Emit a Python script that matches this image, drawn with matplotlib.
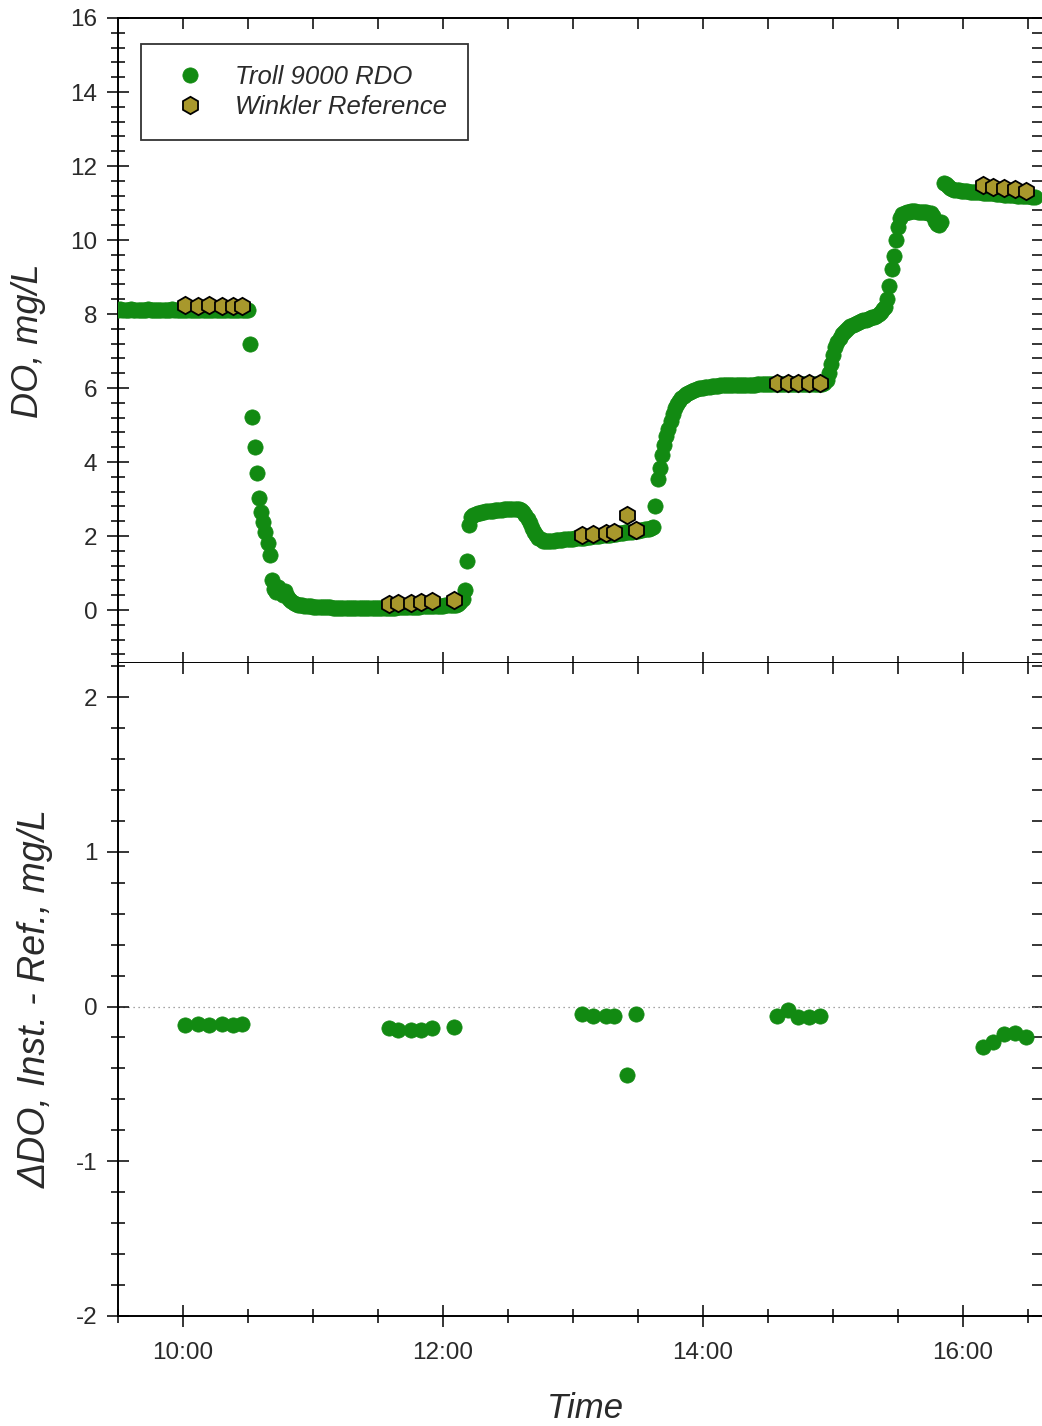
import numpy as np
import matplotlib
matplotlib.use("Agg")
import matplotlib.pyplot as plt
from matplotlib.ticker import MultipleLocator, FuncFormatter

plt.rcParams['font.family'] = ['Liberation Sans', 'DejaVu Sans']
plt.rcParams['axes.unicode_minus'] = False

#  DATA 
# Troll 9000 RDO log, one reading per minute starting 09:30
RDO_START = "09:30"
rdo_do = [
    8.12, 8.13, 8.12, 8.11, 8.12, 8.12, 8.13, 8.12, 8.11, 8.11,
    8.12, 8.12, 8.11, 8.12, 8.13, 8.12, 8.12, 8.11, 8.12, 8.12,
    8.12, 8.11, 8.11, 8.12, 8.12, 8.13, 8.12, 8.12, 8.12, 8.11,
    8.12, 8.12, 8.12, 8.11, 8.12, 8.12, 8.12, 8.12, 8.11, 8.12,
    8.12, 8.12, 8.12, 8.12, 8.11, 8.12, 8.12, 8.12, 8.11, 8.12,
    8.12, 8.12, 8.11, 8.12, 8.12, 8.12, 8.11, 8.12, 8.11, 8.11,
    8.10, 7.20, 5.22, 4.42, 3.70, 3.02, 2.65, 2.38, 2.10, 1.80,
    1.48, 0.82, 0.56, 0.48, 0.62, 0.50, 0.42, 0.52, 0.38, 0.30,
    0.24, 0.20, 0.17, 0.15, 0.14, 0.13, 0.12, 0.11, 0.10, 0.10,
    0.09, 0.09, 0.08, 0.08, 0.08, 0.07, 0.07, 0.07, 0.07, 0.06,
    0.06, 0.06, 0.06, 0.06, 0.05, 0.05, 0.05, 0.05, 0.05, 0.05,
    0.05, 0.05, 0.05, 0.05, 0.05, 0.05, 0.05, 0.05, 0.05, 0.05,
    0.05, 0.05, 0.05, 0.05, 0.05, 0.05, 0.06, 0.06, 0.06, 0.07,
    0.07, 0.07, 0.08, 0.08, 0.08, 0.08, 0.09, 0.09, 0.09, 0.09,
    0.10, 0.10, 0.10, 0.10, 0.11, 0.11, 0.11, 0.12, 0.12, 0.12,
    0.12, 0.13, 0.13, 0.13, 0.14, 0.14, 0.15, 0.17, 0.22, 0.30,
    0.55, 1.32, 2.30, 2.52, 2.58, 2.60, 2.62, 2.63, 2.65, 2.66,
    2.67, 2.68, 2.68, 2.69, 2.70, 2.70, 2.71, 2.71, 2.72, 2.72,
    2.73, 2.73, 2.74, 2.74, 2.74, 2.73, 2.70, 2.65, 2.56, 2.46,
    2.34, 2.22, 2.11, 2.02, 1.96, 1.91, 1.88, 1.87, 1.87, 1.88,
    1.88, 1.88, 1.89, 1.89, 1.90, 1.90, 1.91, 1.92, 1.92, 1.93,
    1.93, 1.94, 1.94, 1.95, 1.96, 1.96, 1.97, 1.98, 1.98, 1.99,
    2.00, 2.00, 2.01, 2.02, 2.02, 2.03, 2.04, 2.04, 2.05, 2.06,
    2.06, 2.07, 2.08, 2.09, 2.10, 2.10, 2.11, 2.12, 2.13, 2.14,
    2.15, 2.16, 2.17, 2.18, 2.19, 2.20, 2.22, 2.25, 2.80, 3.55,
    3.85, 4.20, 4.45, 4.70, 4.90, 5.10, 5.30, 5.45, 5.56, 5.65,
    5.72, 5.78, 5.83, 5.87, 5.90, 5.93, 5.95, 5.97, 5.99, 6.00,
    6.01, 6.02, 6.03, 6.04, 6.05, 6.05, 6.06, 6.06, 6.07, 6.07,
    6.07, 6.08, 6.08, 6.08, 6.08, 6.08, 6.09, 6.09, 6.09, 6.09,
    6.09, 6.09, 6.09, 6.09, 6.09, 6.10, 6.10, 6.10, 6.10, 6.10,
    6.10, 6.10, 6.10, 6.10, 6.10, 6.10, 6.10, 6.10, 6.10, 6.10,
    6.10, 6.10, 6.10, 6.10, 6.10, 6.10, 6.10, 6.10, 6.10, 6.10,
    6.10, 6.10, 6.10, 6.10, 6.10, 6.11, 6.14, 6.22, 6.40, 6.65,
    6.90, 7.10, 7.25, 7.36, 7.45, 7.52, 7.58, 7.63, 7.67, 7.70,
    7.73, 7.76, 7.79, 7.81, 7.83, 7.85, 7.87, 7.89, 7.91, 7.93,
    7.96, 8.00, 8.06, 8.14, 8.20, 8.40, 8.75, 9.22, 9.58, 10.00,
    10.35, 10.60, 10.70, 10.74, 10.76, 10.77, 10.78, 10.78, 10.78, 10.77,
    10.77, 10.76, 10.76, 10.75, 10.74, 10.72, 10.65, 10.52, 10.42, 10.40,
    10.48, 11.55, 11.52, 11.45, 11.40, 11.38, 11.36, 11.35, 11.34, 11.33,
    11.33, 11.32, 11.32, 11.31, 11.31, 11.30, 11.30, 11.29, 11.29, 11.28,
    11.28, 11.27, 11.27, 11.26, 11.26, 11.25, 11.25, 11.24, 11.24, 11.23,
    11.23, 11.22, 11.22, 11.21, 11.21, 11.20, 11.20, 11.19, 11.19, 11.18,
    11.18, 11.18, 11.17, 11.17,
]

# Winkler titration samples
ref_times = ["10:01", "10:07", "10:12", "10:18", "10:23", "10:27",
             "11:35", "11:39", "11:45", "11:50", "11:55", "12:05",
             "13:04", "13:09", "13:15", "13:19", "13:25", "13:29",
             "14:34", "14:39", "14:44", "14:49", "14:54",
             "16:09", "16:14", "16:19", "16:24", "16:29"]
ref_do = [8.24, 8.23, 8.24, 8.23, 8.23, 8.23,
          0.17, 0.19, 0.20, 0.22, 0.24, 0.27,
          2.03, 2.05, 2.09, 2.12, 2.57, 2.16,
          6.15, 6.15, 6.15, 6.15, 6.15,
          11.49, 11.44, 11.40, 11.37, 11.33]
# instrument minus reference
diff_do = [-0.12, -0.11, -0.12, -0.11, -0.12, -0.11,
           -0.14, -0.15, -0.15, -0.15, -0.14, -0.13,
           -0.05, -0.06, -0.06, -0.06, -0.44, -0.05,
           -0.06, -0.02, -0.07, -0.07, -0.06,
           -0.26, -0.23, -0.18, -0.17, -0.20]

X_TICKS = ["10:00", "12:00", "14:00", "16:00"]

GREEN = "#128a12"
OLIVE = "#a8982c"
TXT   = "#2a2a2a"


def hhmm(s):
    h, m = s.split(":")
    return int(h) + int(m) / 60.0


def fmt_time(x, pos):
    h = int(round(x * 60)) // 60
    m = int(round(x * 60)) % 60
    return f"{h}:{m:02d}"


rdo_t = hhmm(RDO_START) + np.arange(len(rdo_do)) / 60.0
ref_t = np.array([hhmm(s) for s in ref_times])

#  FIGURE 
W, H = 1042, 1426
fig = plt.figure(figsize=(W / 100, H / 100), dpi=100)
L, R = 118 / W, 1043 / W
ax1 = fig.add_axes([L, 1 - 663 / H, R - L, (663 - 18) / H])
ax2 = fig.add_axes([L, 1 - 1316 / H, R - L, (1316 - 663) / H], sharex=ax1)

MS = 11
ax1.plot(rdo_t, rdo_do, "o", ms=MS, color=GREEN, mec=GREEN, mew=0.5,
         label="Troll 9000 RDO", zorder=3)
ax1.plot(ref_t, ref_do, "h", ms=12.5, mfc=OLIVE, mec="black", mew=1.3,
         label="Winkler Reference", zorder=4)

ax2.axhline(0, color="#888888", lw=0.9, ls=(0, (1, 3)), zorder=1)
ax2.plot(ref_t, diff_do, "o", ms=MS, color=GREEN, mec=GREEN, mew=0.5, zorder=3)

ax1.set_xlim(9.5, 16 + 860 / 130 - 6)
ax1.set_ylim(-1.43, 16)
ax2.set_ylim(-2, 2.22)

for ax in (ax1, ax2):
    ax.xaxis.set_major_locator(MultipleLocator(2))
    ax.xaxis.set_minor_locator(MultipleLocator(0.5))
    for sp in ax.spines.values():
        sp.set_linewidth(1.4)
    ax.tick_params(which="both", direction="inout", width=1.1, colors="black",
                   labelcolor=TXT, labelsize=17.5, pad=7)
    ax.tick_params(which="major", length=16)
    ax.tick_params(which="minor", length=10)
    ax.tick_params(axis="x", pad=11)

ax1.yaxis.set_major_locator(MultipleLocator(2))
ax1.yaxis.set_minor_locator(MultipleLocator(0.4))
ax2.yaxis.set_major_locator(MultipleLocator(1))
ax2.yaxis.set_minor_locator(MultipleLocator(0.2))
ax1.set_yticks(range(0, 17, 2))
ax2.set_yticks([-2, -1, 0, 1, 2])

ax1.tick_params(axis="x", labelbottom=False)
ax2.xaxis.set_major_formatter(FuncFormatter(fmt_time))
ax2.set_xticks([hhmm(s) for s in X_TICKS])

# top / right ticks point inward only
for ax in (ax1, ax2):
    sec_x = ax.secondary_xaxis("top")
    sec_x.set_xticks(np.arange(10, 16.6, 0.5))
    sec_x.tick_params(direction="in", length=8, width=1.1, labeltop=False)
    sec_x.spines["top"].set_visible(False)
    sec_y = ax.secondary_yaxis("right")
    sec_y.set_yticks(ax.get_yticks())
    sec_y.yaxis.set_minor_locator(ax.yaxis.get_minor_locator())
    sec_y.tick_params(which="both", direction="in", length=8, width=1.1,
                      labelright=False)
ax2.spines["top"].set_visible(False)

leg = ax1.legend(loc="upper left", bbox_to_anchor=((141 - 118) / 925, (663 - 44) / 645),
                 borderaxespad=0, frameon=True, fancybox=False,
                 handlelength=2.25, handletextpad=0.62, borderpad=0.8,
                 labelspacing=0.25, prop={"style": "italic", "size": 18.5})
leg.get_frame().set_edgecolor("black")
leg.get_frame().set_linewidth(1.3)
for t in leg.get_texts():
    t.set_color(TXT)

fig.text(28 / W, 1 - 341 / H, "DO, mg/L", rotation=90, ha="center", va="center",
         fontsize=26, style="italic", color=TXT)
fig.text(36 / W, 1 - 999 / H, "\u0394DO, Inst. - Ref., mg/L", rotation=90,
         ha="center", va="center", fontsize=27, style="italic", color=TXT)
fig.text(585 / W, 1 - 1408 / H, "Time", ha="center", va="center",
         fontsize=25, style="italic", color=TXT)

fig.savefig("out.png", dpi=100)
